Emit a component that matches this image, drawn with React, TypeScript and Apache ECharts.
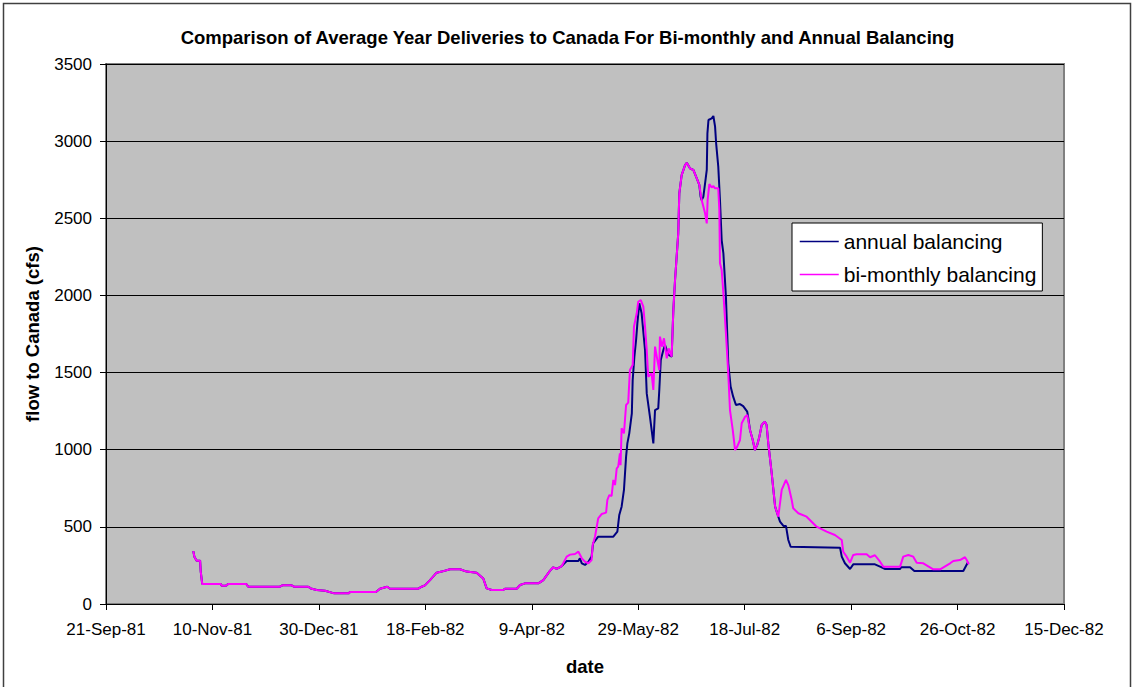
import React, { useEffect, useRef } from "react";
import * as echarts from "echarts";

// day offsets from 21-Sep-1981, flow in cfs
const annualBalancing: [number, number][] = [
  [41, 343], [41.5, 307], [42.6, 281], [44.2, 281], [44.5, 210], [45.2, 130], [53.9, 130], [54.3, 119],
  [56.4, 119], [57.4, 130], [65.8, 130], [66.8, 112], [81.7, 112], [82.8, 121], [87.2, 121], [88.3, 112],
  [95, 112], [96.2, 101], [99, 91], [102.9, 86], [107.2, 69], [114.1, 69], [114.6, 78], [126.8, 78],
  [128.7, 99], [132.1, 112], [133.4, 99], [146.7, 99], [148.3, 112], [149.8, 121], [152.2, 155], [155.3, 203],
  [157.7, 210], [161.6, 225], [166.3, 225], [169.4, 210], [174.1, 203], [177.2, 166], [178.8, 101], [181.2, 91],
  [186.6, 91], [187.4, 99], [192.9, 99], [194.5, 123], [196.8, 134], [203.1, 134], [205.4, 155], [208.6, 216],
  [210.1, 238], [211.7, 227], [214.1, 246], [215.2, 262], [216.4, 279], [221.9, 279], [222.6, 296], [223.5, 264],
  [225, 253], [226.6, 274], [228.1, 307], [228.8, 393], [231.2, 436], [238.3, 436], [240.2, 469], [241.1, 577],
  [242.2, 631], [243.3, 739], [244.3, 955], [244.9, 1041], [245.8, 1106], [247, 1236], [247.4, 1452], [248.2, 1603],
  [249, 1711], [249.6, 1819], [250.5, 1949], [251.6, 1884], [253.2, 1646], [254, 1365], [255.5, 1214], [257.1, 1041],
  [257.9, 1257], [259.4, 1268], [259.9, 1387], [260.6, 1581], [261.8, 1646], [262.6, 1678], [264.2, 1614], [265.7, 1603],
  [266.5, 1905], [267.3, 2100], [268.8, 2402], [269.3, 2661], [270.4, 2780], [272, 2845], [272.8, 2860], [274.3, 2824],
  [275.9, 2813], [277.5, 2759], [278.7, 2716], [279.3, 2640], [279.8, 2618], [280.6, 2640], [281.4, 2726], [282.2, 2813],
  [282.5, 3050], [283, 3137], [284.5, 3148], [285.3, 3163], [286.1, 3094], [286.6, 2986], [287.6, 2835], [288.4, 2618],
  [289.2, 2359], [290, 2273], [291.2, 1992], [291.8, 1754], [292.3, 1560], [293.4, 1409], [294.6, 1344], [295.9, 1290],
  [297.8, 1296], [299.3, 1283], [301.2, 1247], [301.6, 1214], [302.5, 1128], [303.8, 1063], [304.8, 998], [305.9, 1031],
  [306.9, 1084], [308, 1160], [309.5, 1182], [310.3, 1160], [311.1, 1041], [312.7, 847], [314.3, 631], [315.8, 566],
  [316.6, 534], [318.2, 506], [319.4, 506], [320.5, 415], [321.6, 371], [344.8, 365], [345.6, 307], [347.1, 264],
  [349.5, 227], [351, 257], [361.2, 257], [363.6, 242], [366, 227], [373, 227], [373.5, 238], [377.7, 238],
  [379.7, 214], [402.7, 214], [405, 274],
];

const biMonthlyBalancing: [number, number][] = [
  [41, 343], [41.5, 307], [42.6, 281], [44.2, 281], [44.5, 210], [45.2, 130], [53.9, 130], [54.3, 119],
  [56.4, 119], [57.4, 130], [65.8, 130], [66.8, 112], [81.7, 112], [82.8, 121], [87.2, 121], [88.3, 112],
  [95, 112], [96.2, 101], [99, 91], [102.9, 86], [107.2, 69], [114.1, 69], [114.6, 78], [126.8, 78],
  [128.7, 99], [132.1, 112], [133.4, 99], [146.7, 99], [148.3, 112], [149.8, 121], [152.2, 155], [155.3, 203],
  [157.7, 210], [161.6, 225], [166.3, 225], [169.4, 210], [174.1, 203], [177.2, 166], [178.8, 101], [181.2, 91],
  [186.6, 91], [187.4, 99], [192.9, 99], [194.5, 123], [196.8, 134], [203.1, 134], [205.4, 155], [208.6, 216],
  [210.1, 238], [211.7, 227], [214.1, 246], [216.4, 307], [218, 320], [220.3, 324], [221.9, 339], [223.5, 296],
  [225, 274], [226.6, 264], [228.1, 285], [228.6, 382], [229.7, 436], [231.2, 555], [232.8, 583], [234.9, 592],
  [235.5, 674], [236.4, 706], [237.5, 700], [238.3, 804], [239.1, 771], [239.9, 879], [240.6, 890], [241.4, 977],
  [241.7, 900], [242.2, 1139], [243.3, 1106], [244.3, 1290], [245.3, 1305], [246.1, 1517], [247.4, 1549], [248, 1797],
  [249.3, 1884], [250, 1959], [251.2, 1970], [252.4, 1927], [253.2, 1797], [254, 1646], [254.7, 1473], [255.5, 1484],
  [256.3, 1495], [257.1, 1387], [257.9, 1668], [259, 1581], [259.9, 1517], [260.2, 1733], [261.2, 1668], [262.1, 1722],
  [263.4, 1592], [264.3, 1657], [265.7, 1603], [266.5, 1905], [267.3, 2100], [268.8, 2402], [269.3, 2661], [270.4, 2780],
  [272, 2845], [272.8, 2860], [274.3, 2824], [275.9, 2813], [277.5, 2759], [278.7, 2716], [279.8, 2618], [281.4, 2532],
  [282.2, 2467], [282.6, 2618], [283.4, 2722], [284.5, 2700], [285.3, 2709], [286.1, 2694], [287.6, 2694], [288.1, 2553],
  [288.4, 2208], [289.2, 2165], [290, 2014], [291.2, 1754], [292.3, 1495], [293.1, 1257], [294.4, 1128], [295.5, 998],
  [296.5, 1020], [297.8, 1063], [298.6, 1171], [300.2, 1214], [301.2, 1225], [302.5, 1128], [303.8, 1063], [304.8, 998],
  [305.9, 1031], [306.9, 1084], [308, 1160], [309.5, 1182], [310.3, 1160], [311.1, 1041], [312.7, 847], [314.3, 631],
  [315.8, 566], [317.4, 739], [319.4, 804], [320.5, 771], [322.1, 674], [322.8, 620], [325.2, 588], [329.1, 566],
  [333.8, 501], [338.5, 469], [342.4, 447], [345.6, 415], [346.3, 339], [347.9, 307], [349.5, 268], [351, 318],
  [352.6, 322], [357.3, 322], [358.9, 303], [361.2, 316], [363.6, 274], [365.1, 242], [373, 242], [374.5, 307],
  [376.9, 318], [379.2, 307], [380.8, 268], [383.9, 264], [388.6, 225], [391.8, 225], [396.5, 264], [398, 279],
  [401.1, 285], [403.5, 303], [404.3, 285], [405, 264], [405.5, 260],
];

const seriesNames = ["annual balancing", "bi-monthly balancing"];
const seriesColors = ["#000080", "#FF00FF"];
const MONTHS = ["Jan", "Feb", "Mar", "Apr", "May", "Jun", "Jul", "Aug", "Sep", "Oct", "Nov", "Dec"];
const BASE_DATE = Date.UTC(1981, 8, 21);

const FONT = '"Liberation Sans", Arial, sans-serif';

function dayLabel(v: number): string {
  const d = new Date(BASE_DATE + Math.round(v) * 86400000);
  return `${d.getUTCDate()}-${MONTHS[d.getUTCMonth()]}-${String(d.getUTCFullYear()).slice(2)}`;
}

export default function App() {
  const ref = useRef<HTMLDivElement>(null);
  useEffect(() => {
    if (!ref.current) return;
    const chart = echarts.init(ref.current, null, { renderer: "svg" });
    chart.setOption({
      animation: false,
      backgroundColor: "#ffffff",
      textStyle: { fontFamily: FONT },
      title: {
        text: "Comparison of Average Year Deliveries to Canada For Bi-monthly and Annual Balancing",
        left: "center",
        top: 28,
        padding: 0,
        textStyle: { fontFamily: FONT, fontSize: 18.5, fontWeight: "bold", color: "#000" },
      },
      graphic: [
        {
          type: "rect",
          shape: { x: 3.5, y: 3.5, width: 1127, height: 700 },
          style: { fill: "none", stroke: "#404040", lineWidth: 1.5 },
          silent: true,
          z: 100,
        },
      ],
      legend: {
        orient: "vertical",
        left: 792,
        top: 223,
        padding: [8, 6, 6, 7],
        itemWidth: 39,
        itemHeight: 14,
        itemGap: 12,
        backgroundColor: "#ffffff",
        borderColor: "#000000",
        borderWidth: 1,
        itemStyle: { opacity: 0, borderWidth: 0 },
        lineStyle: { width: 1.5 },
        textStyle: { fontFamily: FONT, fontSize: 21, color: "#000" },
        data: seriesNames,
      },
      grid: {
        left: 106,
        top: 64,
        width: 958,
        height: 540,
        show: true,
        backgroundColor: "#C0C0C0",
        borderColor: "#808080",
        borderWidth: 2,
      },
      xAxis: {
        type: "value",
        min: 0,
        max: 450,
        interval: 50,
        name: "date",
        nameLocation: "middle",
        nameGap: 53,
        nameTextStyle: { fontFamily: FONT, fontSize: 18.5, fontWeight: "bold", color: "#000" },
        axisLine: { show: true, onZero: false, lineStyle: { color: "#000", width: 1 } },
        axisTick: { show: true, inside: false, length: 6, lineStyle: { color: "#000" } },
        axisLabel: { margin: 17, fontFamily: FONT, fontSize: 17, color: "#000", formatter: dayLabel },
        splitLine: { show: false },
      },
      yAxis: {
        type: "value",
        min: 0,
        max: 3500,
        interval: 500,
        name: "flow to Canada (cfs)",
        nameLocation: "middle",
        nameGap: 64,
        nameTextStyle: { fontFamily: FONT, fontSize: 18.5, fontWeight: "bold", color: "#000" },
        axisLine: { show: true, lineStyle: { color: "#000", width: 1 } },
        axisTick: { show: true, inside: false, length: 6, lineStyle: { color: "#000" } },
        axisLabel: {
          margin: 14,
          fontFamily: FONT,
          fontSize: 17,
          color: "#000",
          formatter: (v: number) => String(v),
        },
        splitLine: { show: true, lineStyle: { color: "#000", width: 1 } },
      },
      series: [
        {
          name: seriesNames[0],
          type: "line",
          data: annualBalancing,
          symbol: "none",
          color: seriesColors[0],
          lineStyle: { color: seriesColors[0], width: 2 },
        },
        {
          name: seriesNames[1],
          type: "line",
          data: biMonthlyBalancing,
          symbol: "none",
          color: seriesColors[1],
          lineStyle: { color: seriesColors[1], width: 2 },
        },
      ],
    });
    return () => chart.dispose();
  }, []);
  return (
    <div
      ref={ref}
      style={{ position: "absolute", left: 0, top: 0, width: 1135, height: 687 }}
    />
  );
}
